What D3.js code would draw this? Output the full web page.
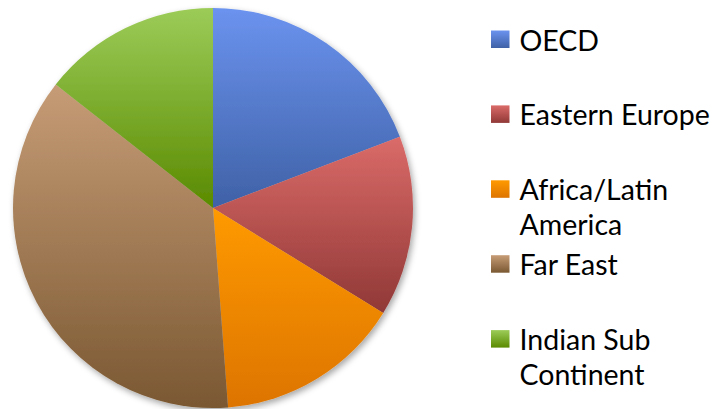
<!DOCTYPE html>
<html>
<head>
<meta charset="utf-8">
<script src="https://cdn.jsdelivr.net/npm/d3@7"></script>
<style>
  body { margin: 0; background: #fff; }
</style>
</head>
<body>
<div id="chart"></div>
<script>
// slice data (clockwise from 12 o'clock)
var regions = ["OECD", "Eastern Europe", "Africa/Latin America", "Far East", "Indian Sub Continent"];
var shares = [19.2, 14.6, 15.0, 36.8, 14.4];
var legendLines = [["OECD"], ["Eastern Europe"], ["Africa/Latin", "America"], ["Far East"], ["Indian Sub", "Continent"]];

var colTop = ["#6b93ef", "#da6b69", "#ff9a00", "#c69c76", "#9ccc58"];
var colBot = ["#3f61a6", "#903836", "#dd7400", "#7a5832", "#5a8a00"];

var width = 717, height = 409;
var cx = 213, cy = 208, radius = 200;

var svg = d3.select("#chart")
      .append("svg")
      .attr("width", width)
      .attr("height", height);

var defs = svg.append("defs");

// shadow under the pie
var f = defs.append("filter").attr("id", "shadow")
      .attr("x", "-10%").attr("y", "-10%").attr("width", "120%").attr("height", "120%");
f.append("feDropShadow")
      .attr("dx", 2).attr("dy", 3)
      .attr("stdDeviation", 3)
      .attr("flood-color", "#000")
      .attr("flood-opacity", 0.35);

regions.forEach(function (r, i) {
      var g = defs.append("linearGradient")
            .attr("id", "grad" + i)
            .attr("x1", 0).attr("y1", 0).attr("x2", 0).attr("y2", 1);
      g.append("stop").attr("offset", "0%").attr("stop-color", colTop[i]);
      g.append("stop").attr("offset", "100%").attr("stop-color", colBot[i]);
});

var pie = d3.pie().sort(null).value(function (d) { return d; });
var arc = d3.arc().innerRadius(0).outerRadius(radius);

var pieG = svg.append("g")
      .attr("transform", "translate(" + cx + "," + cy + ")")
      .attr("filter", "url(#shadow)");

pieG.selectAll("path")
      .data(pie(shares))
      .enter()
      .append("path")
      .attr("d", arc)
      .attr("fill", function (d, i) { return "url(#grad" + i + ")"; });

// legend
var legX = 491, legY0 = 50.5, legStep = 74.9, lineH = 35;
var font = "Lato, 'Open Sans', sans-serif";

var leg = svg.append("g");
legendLines.forEach(function (lines, i) {
      var base = legY0 + i * legStep;
      leg.append("rect")
            .attr("x", legX)
            .attr("y", base - 20)
            .attr("width", 18.5)
            .attr("height", 17.5)
            .attr("fill", "url(#grad" + i + ")");
      var t = leg.append("text")
            .attr("x", legX + 28.5)
            .attr("y", base)
            .attr("font-family", font)
            .attr("font-size", "28.5px")
            .attr("fill", "#000");
      lines.forEach(function (l, j) {
            t.append("tspan")
                  .attr("x", legX + 28.5)
                  .attr("dy", j == 0 ? 0 : lineH)
                  .text(l);
      });
});
</script>
</body>
</html>
